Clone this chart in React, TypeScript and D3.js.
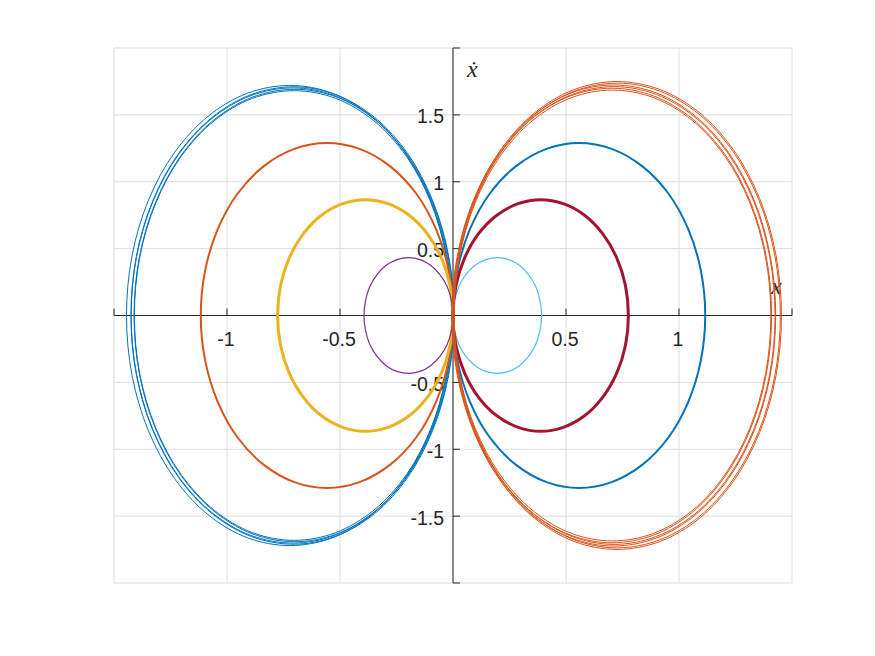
import React, { useEffect, useRef } from 'react';
import * as d3 from 'd3';

// axis ticks / grid
const xTicks = [-1, -0.5, 0.5, 1];
const yTicks = [-1.5, -1, -0.5, 0.5, 1, 1.5];
const gridX = [-1.5, -1, -0.5, 0, 0.5, 1, 1.5];
const gridY = [-2, -1.5, -1, -0.5, 0, 0.5, 1, 1.5, 2];

// orbits in the (x, xdot) plane, upper half; the lower half is the mirror image
const orbitL1: [number, number][] = [
  [0, 0], [-0.024, 0.443], [-0.094, 0.855], [-0.205, 1.209], [-0.352, 1.481], [-0.525, 1.652],
  [-0.71, 1.71], [-0.898, 1.652], [-1.071, 1.481], [-1.22, 1.209], [-1.334, 0.855], [-1.406, 0.443], [-1.43, 0],
];
const orbitL2: [number, number][] = [
  [0, 0], [-0.019, 0.334], [-0.075, 0.645], [-0.163, 0.912], [-0.279, 1.117], [-0.414, 1.246],
  [-0.558, 1.29], [-0.702, 1.246], [-0.837, 1.117], [-0.953, 0.912], [-1.041, 0.645], [-1.097, 0.334], [-1.116, 0],
];
const orbitL3: [number, number][] = [
  [0, 0], [-0.013, 0.224], [-0.052, 0.433], [-0.114, 0.612], [-0.194, 0.75], [-0.288, 0.836],
  [-0.388, 0.866], [-0.488, 0.836], [-0.582, 0.75], [-0.662, 0.612], [-0.724, 0.433], [-0.763, 0.224], [-0.776, 0],
];
const orbitL4: [number, number][] = [
  [0, 0], [-0.007, 0.112], [-0.026, 0.217], [-0.058, 0.306], [-0.099, 0.375], [-0.146, 0.418],
  [-0.197, 0.433], [-0.248, 0.418], [-0.296, 0.375], [-0.336, 0.306], [-0.368, 0.217], [-0.387, 0.112], [-0.394, 0],
];
const orbitR1: [number, number][] = [
  [0, 0], [0.007, 0.112], [0.026, 0.217], [0.057, 0.306], [0.098, 0.375], [0.145, 0.418],
  [0.196, 0.433], [0.247, 0.418], [0.294, 0.375], [0.334, 0.306], [0.366, 0.217], [0.385, 0.112], [0.392, 0],
];
const orbitR2: [number, number][] = [
  [0, 0], [0.013, 0.224], [0.052, 0.433], [0.113, 0.612], [0.194, 0.75], [0.288, 0.836],
  [0.388, 0.866], [0.488, 0.836], [0.582, 0.75], [0.662, 0.612], [0.724, 0.433], [0.763, 0.224], [0.776, 0],
];
const orbitR3: [number, number][] = [
  [0, 0], [0.019, 0.334], [0.075, 0.645], [0.163, 0.912], [0.279, 1.117], [0.414, 1.246],
  [0.558, 1.29], [0.702, 1.246], [0.837, 1.117], [0.953, 0.912], [1.041, 0.645], [1.097, 0.334], [1.116, 0],
];
const orbitR4: [number, number][] = [
  [0, 0], [0.024, 0.445], [0.095, 0.86], [0.208, 1.216], [0.356, 1.49], [0.528, 1.661],
  [0.715, 1.72], [0.902, 1.661], [1.074, 1.49], [1.222, 1.216], [1.335, 0.86], [1.406, 0.445], [1.43, 0],
];

// relative size and sideways drift of each lap for the orbits that go round several times
const lapsL1 = [0.983, 0.989, 0.995, 1.0, 1.006];
const driftL1 = [-0.004, 0.003, -0.001, 0.005, -0.006];
const lapsR4 = [0.98, 0.988, 0.995, 1.002, 1.01, 1.017];
const driftR4 = [0.005, -0.003, 0.002, -0.005, 0.004, -0.001];
const singleLap = [1];
const noDrift = [0];

const series = [
  { pts: orbitL1, laps: lapsL1, drift: driftL1, color: '#0072BD', width: 1 },
  { pts: orbitL2, laps: singleLap, drift: noDrift, color: '#D95319', width: 2 },
  { pts: orbitL3, laps: singleLap, drift: noDrift, color: '#EDB120', width: 3 },
  { pts: orbitL4, laps: singleLap, drift: noDrift, color: '#7E2F8E', width: 1.2 },
  { pts: orbitR1, laps: singleLap, drift: noDrift, color: '#4DBEEE', width: 1.2 },
  { pts: orbitR2, laps: singleLap, drift: noDrift, color: '#A2142F', width: 3 },
  { pts: orbitR3, laps: singleLap, drift: noDrift, color: '#0072BD', width: 2 },
  { pts: orbitR4, laps: lapsR4, drift: driftR4, color: '#D95319', width: 1 },
];

const W = 875;
const H = 656;

const App: React.FC = () => {
  const ref = useRef<SVGSVGElement>(null);

  useEffect(() => {
    if (!ref.current) return;
    const svg = d3.select(ref.current);
    svg.selectAll('*').remove();

    const x = d3.scaleLinear().domain([-1.5, 1.5]).range([114, 792]);
    const y = d3.scaleLinear().domain([-2, 2]).range([583, 48]);
    const x0 = x(0);
    const y0 = y(0);
    const tickLen = 7;

    svg.append('rect').attr('width', W).attr('height', H).attr('fill', '#ffffff');

    // grid
    const grid = svg.append('g').attr('stroke', '#dcdcdc').attr('stroke-width', 1);
    grid.selectAll('line.gx').data(gridX).enter().append('line')
      .attr('x1', d => x(d)).attr('x2', d => x(d))
      .attr('y1', y(2)).attr('y2', y(-2));
    grid.selectAll('line.gy').data(gridY).enter().append('line')
      .attr('y1', d => y(d)).attr('y2', d => y(d))
      .attr('x1', x(-1.5)).attr('x2', x(1.5));

    // axes through the origin
    const ax = svg.append('g').attr('stroke', '#262626').attr('stroke-width', 1);
    ax.append('line').attr('x1', x(-1.5)).attr('x2', x(1.5)).attr('y1', y0).attr('y2', y0);
    ax.append('line').attr('x1', x0).attr('x2', x0).attr('y1', y(2)).attr('y2', y(-2));
    ax.selectAll('line.tx').data(gridX.filter(d => d !== 0)).enter().append('line')
      .attr('x1', d => x(d)).attr('x2', d => x(d))
      .attr('y1', y0).attr('y2', y0 - tickLen);
    ax.selectAll('line.ty').data(gridY.filter(d => d !== 0)).enter().append('line')
      .attr('y1', d => y(d)).attr('y2', d => y(d))
      .attr('x1', x0).attr('x2', x0 + tickLen);

    const fmt = (d: number) => String(d);
    const labels = svg.append('g')
      .attr('font-family', "'Liberation Sans', Arial, Helvetica, sans-serif")
      .attr('font-size', 19.5).attr('fill', '#262626');
    labels.selectAll('text.lx').data(xTicks).enter().append('text')
      .attr('x', d => x(d) - 1).attr('y', y0 + 30.5)
      .attr('text-anchor', 'middle').text(fmt);
    labels.selectAll('text.ly').data(yTicks).enter().append('text')
      .attr('x', x0 - 9).attr('y', d => y(d) + 8.5)
      .attr('text-anchor', 'end').text(fmt);

    const axLabels = svg.append('g')
      .attr('font-family', "'Liberation Serif', 'Times New Roman', serif")
      .attr('font-style', 'italic').attr('font-size', 24).attr('fill', '#262626');
    axLabels.append('text').attr('x', x0 + 14).attr('y', y(2) + 29).text('ẋ');
    axLabels.append('text').attr('x', x(1.5) - 21).attr('y', y0 - 22).text('x');

    // orbits
    const line = d3.line<[number, number]>()
      .x(d => x(d[0])).y(d => y(d[1]))
      .curve(d3.curveCatmullRomClosed.alpha(0.5));

    const g = svg.append('g').attr('fill', 'none').attr('stroke-linejoin', 'round');
    series.forEach(s => {
      const lower = s.pts.slice(1, -1).reverse().map(p => [p[0], -p[1]] as [number, number]);
      const loop = [...s.pts, ...lower];
      s.laps.forEach((k, i) => {
        const dx = s.drift[i];
        g.append('path')
          .attr('d', line(loop.map(p => [p[0] * k + dx, p[1] * k] as [number, number])))
          .attr('stroke', s.color)
          .attr('stroke-width', s.width);
      });
    });
  }, []);

  return (
    <svg ref={ref} width={W} height={H}
      style={{ position: 'absolute', left: 0, top: 0, display: 'block' }} />
  );
};

export default App;
